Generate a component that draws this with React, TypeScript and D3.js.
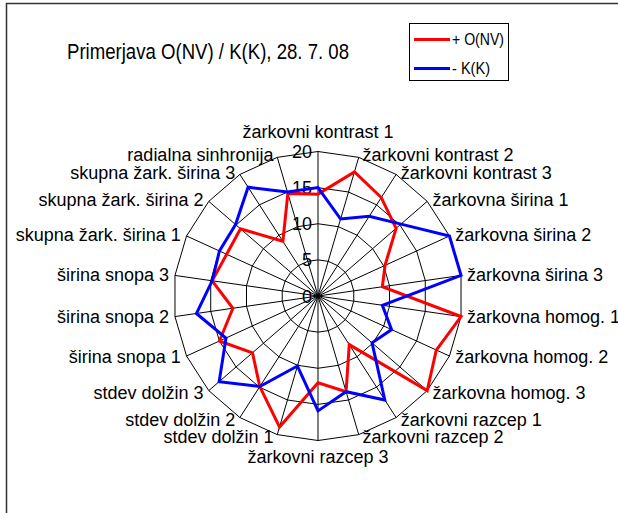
import React from "react";
import * as d3 from "d3";

const categories = [
  "žarkovni kontrast 1",
  "žarkovni kontrast 2",
  "žarkovni kontrast 3",
  "žarkovna širina 1",
  "žarkovna širina 2",
  "žarkovna širina 3",
  "žarkovna homog. 1",
  "žarkovna homog. 2",
  "žarkovna homog. 3",
  "žarkovni razcep 1",
  "žarkovni razcep 2",
  "žarkovni razcep 3",
  "stdev dolžin 1",
  "stdev dolžin 2",
  "stdev dolžin 3",
  "širina snopa 1",
  "širina snopa 2",
  "širina snopa 3",
  "skupna žark. širina 1",
  "skupna žark. širina 2",
  "skupna žark. širina 3",
  "radialna sinhronija",
];

const seriesO = [14.1, 17.9, 16.2, 14.3, 10.2, 9.0, 20, 18.0, 20, 8.0, 13.8, 12.0, 18.9, 14.9, 12.0, 15.0, 11.9, 14.8, 13.9, 14.2, 9.0, 14.8];
const seriesK = [15.0, 11.1, 13.1, 15.2, 20, 20, 9.0, 11.2, 9.9, 17.1, 13.8, 15.9, 10.1, 14.9, 18.1, 14.0, 17.0, 14.8, 15.0, 15.1, 17.9, 15.0];

const ticks = [0, 5, 10, 15, 20];
const seriesNames = ["+ O(NV)", "- K(K)"];
const seriesColors = ["#FF0000", "#0000FF"];
const title = "Primerjava O(NV) / K(K), 28. 7. 08";

const W = 618;
const H = 513;
const cx = 318;
const cy = 296;
const R = 144.5;
const FONT = "'Liberation Sans', Arial, sans-serif";

export default function App() {
  const n = categories.length;
  const angle = d3.scaleLinear().domain([0, n]).range([0, 2 * Math.PI]);
  const r = d3.scaleLinear().domain([0, 20]).range([0, R]);
  const idx = d3.range(n);

  const seriesLine = (vals: number[]) =>
    d3
      .lineRadial<number>()
      .angle((i) => angle(i))
      .radius((i) => r(vals[i]))
      .curve(d3.curveLinearClosed)(idx) as string;

  const ringPath = (t: number) =>
    d3
      .lineRadial<number>()
      .angle((i) => angle(i))
      .radius(r(t))
      .curve(d3.curveLinearClosed)(idx) as string;

  return (
    <svg
      width={W}
      height={H}
      style={{ position: "absolute", left: 0, top: 0, background: "#fff" }}
      fontFamily={FONT}
    >
      <rect x={0} y={0} width={W} height={H} fill="#fff" />
      <rect x={6.5} y={3.5} width={700} height={600} fill="none" stroke="#333" strokeWidth={1.5} />

      <text x={67} y={59} fontSize={22} textLength={282} lengthAdjust="spacingAndGlyphs" fill="#000">
        {title}
      </text>

      <g transform={`translate(${cx},${cy})`}>
        {ticks.slice(1).map((t) => (
          <path key={t} d={ringPath(t)} fill="none" stroke="#000" strokeWidth={1} />
        ))}
        {idx.map((i) => {
          const a = angle(i);
          return (
            <line
              key={i}
              x1={0}
              y1={0}
              x2={R * Math.sin(a)}
              y2={-R * Math.cos(a)}
              stroke="#000"
              strokeWidth={1}
            />
          );
        })}
        {ticks.map((t) => (
          <text key={t} x={-6} y={-r(t) + 6.5} fontSize={18} textAnchor="end" fill="#000">
            {t}
          </text>
        ))}
        <path d={seriesLine(seriesO)} fill="none" stroke={seriesColors[0]} strokeWidth={3} strokeLinejoin="miter" />
        <path d={seriesLine(seriesK)} fill="none" stroke={seriesColors[1]} strokeWidth={3} strokeLinejoin="miter" />
        {categories.map((c, i) => {
          const a = angle(i);
          const s = Math.sin(a);
          const co = Math.cos(a);
          const ex = R * s;
          const ey = -R * co;
          let x = ex;
          let y = ey;
          let anchor: "start" | "middle" | "end" = "middle";
          if (i === 0) {
            y = ey - 14;
          } else if (i === n / 2) {
            y = ey + 22;
          } else {
            anchor = s > 0 ? "start" : "end";
            x = ex + (s > 0 ? 1 : -1) * (3 + 3 * Math.abs(s));
            y = ey - 2.5 * co + 6.3;
          }
          return (
            <text key={c} x={x} y={y} fontSize={18} textAnchor={anchor} fill="#000">
              {c}
            </text>
          );
        })}
      </g>

      <g>
        <rect x={409.5} y={23.5} width={99} height={57} fill="#fff" stroke="#000" strokeWidth={1} />
        {seriesNames.map((nm, i) => (
          <g key={nm}>
            <line x1={414} x2={450} y1={39.5 + i * 29} y2={39.5 + i * 29} stroke={seriesColors[i]} strokeWidth={3} />
            <text
              x={452}
              y={45 + i * 29}
              fontSize={16}
              textLength={i === 0 ? 52 : 38}
              lengthAdjust="spacingAndGlyphs"
              fill="#000"
            >
              {nm}
            </text>
          </g>
        ))}
      </g>
    </svg>
  );
}
